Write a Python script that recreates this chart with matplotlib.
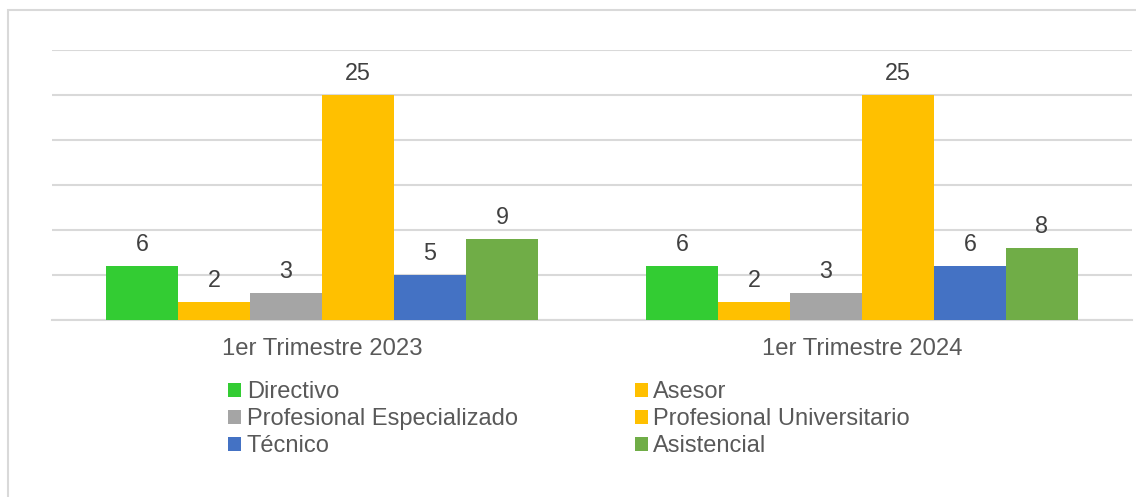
import matplotlib.pyplot as plt
import numpy as np
from matplotlib.patches import Rectangle

periods = ['1er Trimestre 2023', '1er Trimestre 2024']
categories = ['Directivo', 'Asesor', 'Profesional Especializado',
              'Profesional Universitario', 'Técnico', 'Asistencial']
directivo = [6, 6]
asesor = [2, 2]
prof_especializado = [3, 3]
prof_universitario = [25, 25]
tecnico = [5, 6]
asistencial = [9, 8]
colors = ['#33cc33', '#ffc000', '#a5a5a5', '#ffc000', '#4472c4', '#70ad47']

series = [directivo, asesor, prof_especializado, prof_universitario, tecnico, asistencial]

plt.rcParams['font.family'] = ['Liberation Sans', 'DejaVu Sans']

W, H = 1136, 497
fig = plt.figure(figsize=(W / 100, H / 100), dpi=100)
ax = fig.add_axes([52 / W, 1 - 320 / H, (1132 - 52) / W, (320 - 50) / H])

# chart frame (only top/left visible in the original)
fig.patches.append(Rectangle((8 / W, -0.1), 1.2, 1 - 10 / H + 0.1, transform=fig.transFigure,
                             facecolor='none', edgecolor='#d9d9d9', linewidth=1.5, zorder=0))

x = np.arange(len(periods))
bw = 72 / 540
handles = []
for i, vals in enumerate(series):
    pos = x + (i - 2.5) * bw
    b = ax.bar(pos, vals, width=bw, color=colors[i], label=categories[i], zorder=3)
    handles.append(b)
    for p, v in zip(pos, vals):
        ax.annotate(str(v), (p, v), xytext=(0, 7), textcoords='offset points',
                    ha='center', va='bottom', fontsize=16.8, color='#404040')

ax.set_xlim(-0.5, 1.5)
ax.set_ylim(0, 30)
ax.set_yticks(range(0, 31, 5))
ax.yaxis.grid(True, color='#d9d9d9', linewidth=1.5, zorder=0)
ax.tick_params(axis='y', left=False, labelleft=False)
ax.tick_params(axis='x', length=0, pad=13, labelsize=17.2, labelcolor='#595959')
ax.set_xticks(x)
ax.set_xticklabels(periods)
for s in ['top', 'right', 'left']:
    ax.spines[s].set_visible(False)
ax.spines['bottom'].set_color('#d9d9d9')
ax.spines['bottom'].set_linewidth(1.5)

order = [0, 2, 4, 1, 3, 5]
leg = fig.legend([handles[i] for i in order], [categories[i] for i in order],
                 ncol=2, loc='upper left', bbox_to_anchor=(228 / W, 1 - 381 / H),
                 frameon=False, fontsize=17, handlelength=0.55, handleheight=0.55,
                 handletextpad=0.24, labelspacing=0.22, columnspacing=4.95,
                 borderpad=0, borderaxespad=0)
for t in leg.get_texts():
    t.set_color('#595959')

fig.savefig('out.png', dpi=100)
